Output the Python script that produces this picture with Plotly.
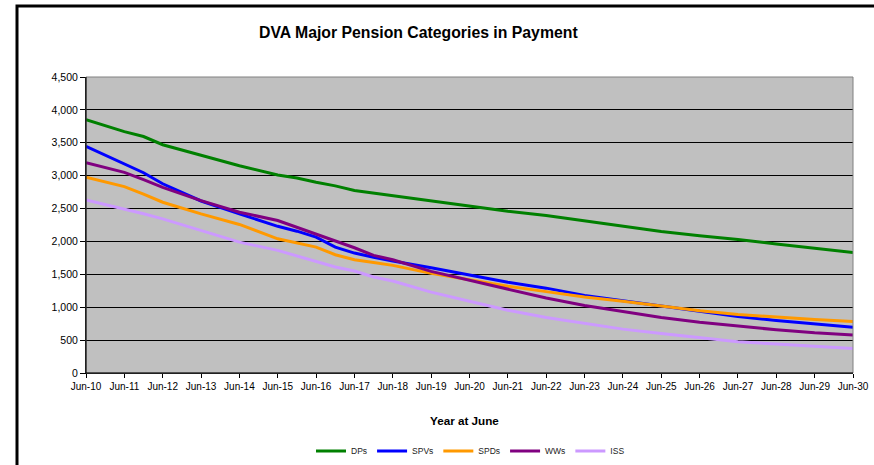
import plotly.graph_objects as go

years = [2010, 2011, 2011.5, 2012, 2013, 2014, 2015, 2015.5, 2016, 2016.5, 2017, 2017.5,
         2018, 2019, 2020, 2021, 2022, 2023, 2024, 2025, 2026, 2027, 2028, 2029, 2030]

dps = [3850, 3670, 3595, 3470, 3310, 3150, 3010, 2965, 2900, 2845, 2775, 2735,
       2700, 2620, 2530, 2460, 2395, 2310, 2232, 2150, 2086, 2030, 1960, 1895, 1830]
spvs = [3445, 3175, 3045, 2877, 2615, 2420, 2230, 2156, 2066, 1914, 1823, 1760,
        1702, 1601, 1490, 1380, 1290, 1180, 1098, 1018, 937, 858, 798, 742, 695]
spds = [2975, 2833, 2720, 2596, 2419, 2258, 2040, 1975, 1914, 1798, 1722, 1680,
        1636, 1515, 1420, 1318, 1237, 1157, 1090, 1020, 947, 890, 848, 815, 783]
wws = [3197, 3050, 2940, 2823, 2621, 2444, 2318, 2217, 2116, 2005, 1904, 1788,
       1722, 1545, 1410, 1265, 1140, 1025, 930, 845, 772, 710, 657, 611, 578]
iss = [2631, 2495, 2420, 2343, 2167, 1990, 1864, 1783, 1702, 1611, 1550, 1460,
       1399, 1230, 1090, 955, 843, 753, 667, 601, 540, 475, 439, 409, 374]

series_names = ["DPs", "SPVs", "SPDs", "WWs", "ISS"]
series_colors = ["#008000", "#0000FF", "#FF9900", "#800080", "#CC99FF"]

tick_years = list(range(2010, 2031))
tick_labels = ["Jun-%02d" % (y - 2000) for y in tick_years]

y_ticks = list(range(0, 4501, 500))

W, H = 874, 465
L, R, T, B = 86, 853, 77, 373

fig = go.Figure()
for name, vals, col in zip(series_names, [dps, spvs, spds, wws, iss], series_colors):
    fig.add_trace(go.Scatter(x=years, y=vals, mode="lines", name=name,
                             line=dict(color=col, width=3)))

def px_x(p):
    return (p - L) / (R - L)

def px_y(p):
    return (B - p) / (B - T)

fig.update_layout(
    width=W, height=H,
    margin=dict(l=L, r=W - R, t=T, b=H - B, pad=0, autoexpand=False),
    paper_bgcolor="white",
    plot_bgcolor="#C0C0C0",
    font=dict(family="Arial, Liberation Sans, sans-serif", color="black"),
    showlegend=True,
    legend=dict(orientation="h", xref="container", yref="container",
                x=470.5 / W, xanchor="center", y=1 - 451 / H, yanchor="middle",
                font=dict(size=8.5, color="#222"), bgcolor="rgba(0,0,0,0)",
                itemwidth=30, tracegroupgap=0),
    xaxis=dict(range=[2010, 2030], tickvals=tick_years, ticktext=tick_labels,
               showgrid=False, zeroline=False, showline=True, linecolor="black", linewidth=1,
               ticks="outside", ticklen=4, tickcolor="black", tickfont=dict(size=10),
               automargin=False),
    yaxis=dict(range=[0, 4500], tickvals=y_ticks, tickformat=",",
               showgrid=True, gridcolor="black", gridwidth=1, zeroline=False,
               showline=True, linecolor="black", linewidth=1,
               ticks="outside", ticklen=5, tickcolor="black", tickfont=dict(size=10.5),
               automargin=False),
    shapes=[
        dict(type="rect", xref="paper", yref="paper", x0=0, x1=1, y0=0, y1=1,
             line=dict(color="#808080", width=1), layer="above"),
        dict(type="line", xref="paper", yref="paper", x0=0, x1=0, y0=0, y1=1,
             line=dict(color="black", width=1), layer="above"),
        dict(type="line", xref="paper", yref="paper", x0=0, x1=1, y0=0, y1=0,
             line=dict(color="black", width=1), layer="above"),
        dict(type="rect", xref="paper", yref="paper",
             x0=px_x(17), x1=px_x(890), y0=px_y(480), y1=px_y(6),
             line=dict(color="black", width=3)),
    ],
    annotations=[
        dict(text="<b>DVA Major Pension Categories in Payment</b>", xref="paper", yref="paper",
             x=px_x(418), y=px_y(32), xanchor="center", yanchor="middle", showarrow=False,
             font=dict(size=15.8)),
        dict(text="<b>Year at June</b>", xref="paper", yref="paper",
             x=px_x(464), y=px_y(420), xanchor="center", yanchor="middle", showarrow=False,
             font=dict(size=11.7)),
    ],
)

fig.write_html("out.html", config={"displayModeBar": False},
               post_script="document.body.style.margin='0';document.body.style.overflow='hidden';")
